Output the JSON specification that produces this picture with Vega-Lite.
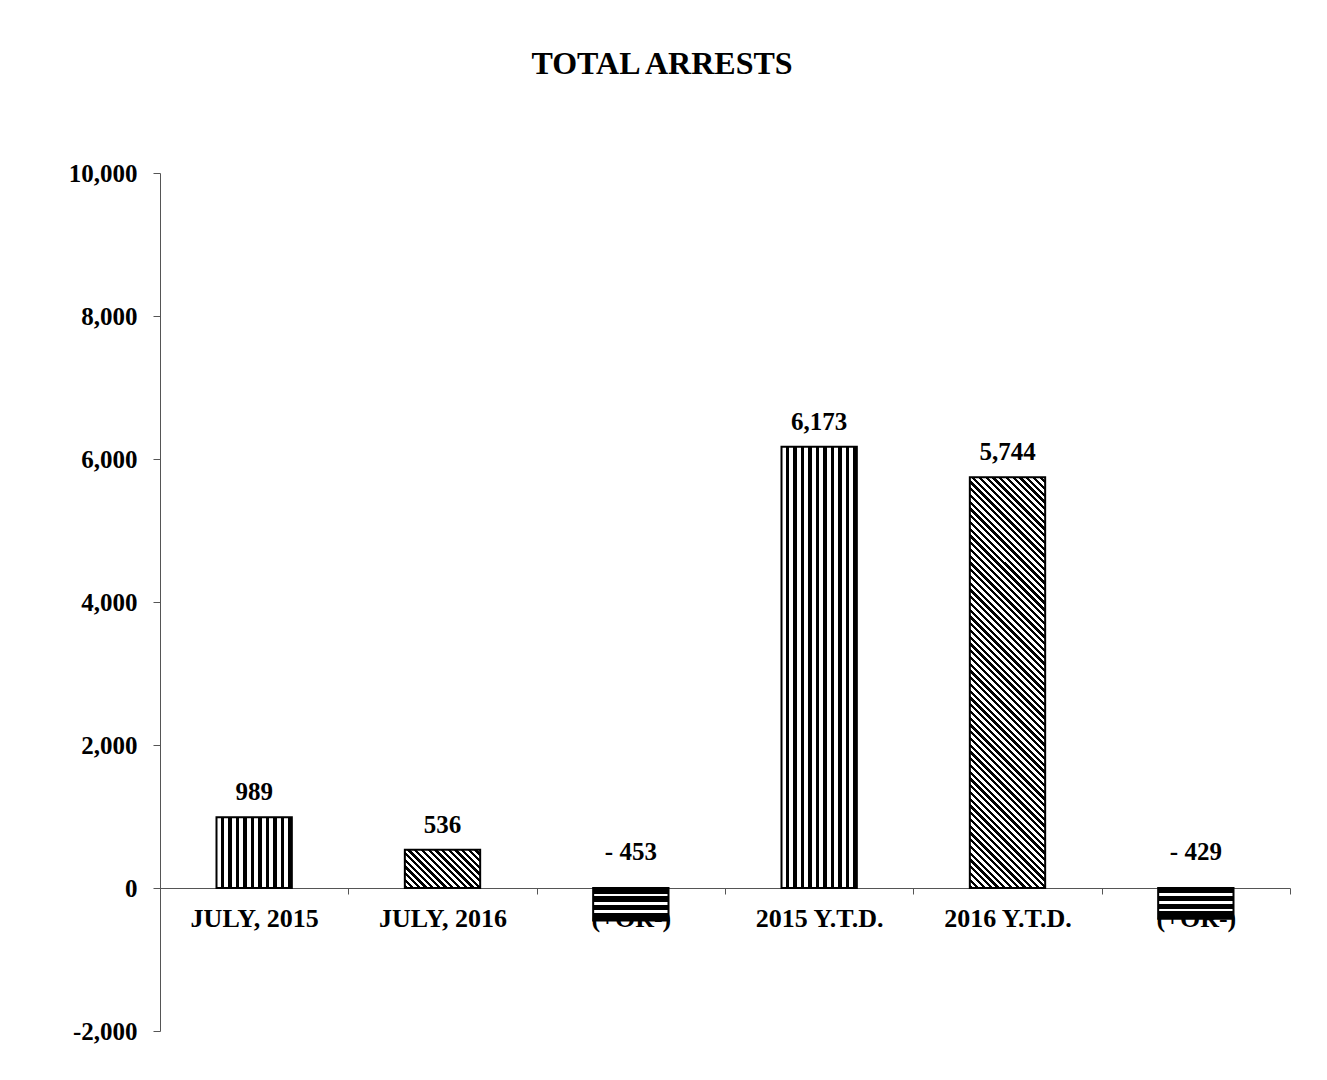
{
  "$schema": "https://vega.github.io/schema/vega-lite/v6.json",
  "width": 1130,
  "height": 858,
  "autosize": "none",
  "padding": {"left": 160, "top": 173, "right": 37, "bottom": 49},
  "background": "white",
  "title": {
    "text": "TOTAL ARRESTS",
    "font": "Liberation Serif",
    "fontSize": 32,
    "fontWeight": "bold",
    "color": "black",
    "anchor": "middle",
    "baseline": "alphabetic",
    "dx": -63,
    "offset": 55
  },
  "data": {
    "values": [
      {"category": "JULY, 2015", "value": 989, "label": "989"},
      {"category": "JULY, 2016", "value": 536, "label": "536"},
      {"category": "(+OR-)", "value": -453, "label": "- 453"},
      {"category": "2015 Y.T.D.", "value": 6173, "label": "6,173"},
      {"category": "2016 Y.T.D.", "value": 5744, "label": "5,744"},
      {"category": "(+OR-) ", "value": -429, "label": "- 429"}
    ]
  },
  "encoding": {
    "x": {
      "field": "category",
      "type": "nominal",
      "sort": null,
      "scale": {
        "domain": ["JULY, 2015", "JULY, 2016", "(+OR-)", "2015 Y.T.D.", "2016 Y.T.D.", "(+OR-) "],
        "paddingInner": 0,
        "paddingOuter": 0
      },
      "axis": {
        "title": null,
        "orient": "bottom",
        "offset": -143,
        "labelAngle": 0,
        "labelFont": "Liberation Serif",
        "labelFontSize": 26,
        "labelFontWeight": "bold",
        "labelColor": "black",
        "labelPadding": 11,
        "labelOverlap": false,
        "labelLimit": 0,
        "tickBand": "extent",
        "tickSize": 6,
        "tickColor": "#555",
        "domainColor": "#555",
        "grid": false
      }
    },
    "y": {
      "field": "value",
      "type": "quantitative",
      "scale": {"domain": [-2000, 10000], "nice": false, "zero": false},
      "axis": {
        "title": null,
        "values": [-2000, 0, 2000, 4000, 6000, 8000, 10000],
        "labelExpr": "replace(format(datum.value, ','), '\u2212', '-')",
        "labelFont": "Liberation Serif",
        "labelFontSize": 25,
        "labelFontWeight": "bold",
        "labelColor": "black",
        "labelPadding": 16,
        "tickSize": 7,
        "tickColor": "#555",
        "domainColor": "#555",
        "grid": false
      }
    }
  },
  "layer": [
    {
      "transform": [{"filter": {"field": "category", "oneOf": ["JULY, 2015", "2015 Y.T.D."]}}],
      "mark": {
        "type": "bar",
        "width": {"band": 0.4},
        "stroke": "black",
        "strokeWidth": 2,
        "fill": {
          "gradient": "linear", "x1": 0, "y1": 0, "x2": 1, "y2": 0,
          "stops": [
            {"offset": 0, "color": "#fff"}, {"offset": 0.055, "color": "#fff"}, {"offset": 0.055, "color": "#000"}, {"offset": 0.1, "color": "#000"},
            {"offset": 0.1, "color": "#fff"}, {"offset": 0.155, "color": "#fff"}, {"offset": 0.155, "color": "#000"}, {"offset": 0.2, "color": "#000"},
            {"offset": 0.2, "color": "#fff"}, {"offset": 0.255, "color": "#fff"}, {"offset": 0.255, "color": "#000"}, {"offset": 0.3, "color": "#000"},
            {"offset": 0.3, "color": "#fff"}, {"offset": 0.355, "color": "#fff"}, {"offset": 0.355, "color": "#000"}, {"offset": 0.4, "color": "#000"},
            {"offset": 0.4, "color": "#fff"}, {"offset": 0.455, "color": "#fff"}, {"offset": 0.455, "color": "#000"}, {"offset": 0.5, "color": "#000"},
            {"offset": 0.5, "color": "#fff"}, {"offset": 0.555, "color": "#fff"}, {"offset": 0.555, "color": "#000"}, {"offset": 0.6, "color": "#000"},
            {"offset": 0.6, "color": "#fff"}, {"offset": 0.655, "color": "#fff"}, {"offset": 0.655, "color": "#000"}, {"offset": 0.7, "color": "#000"},
            {"offset": 0.7, "color": "#fff"}, {"offset": 0.755, "color": "#fff"}, {"offset": 0.755, "color": "#000"}, {"offset": 0.8, "color": "#000"},
            {"offset": 0.8, "color": "#fff"}, {"offset": 0.855, "color": "#fff"}, {"offset": 0.855, "color": "#000"}, {"offset": 0.9, "color": "#000"},
            {"offset": 0.9, "color": "#fff"}, {"offset": 0.955, "color": "#fff"}, {"offset": 0.955, "color": "#000"}, {"offset": 1, "color": "#000"}
          ]
        }
      }
    },
    {
      "transform": [{"filter": {"field": "category", "equal": "JULY, 2016"}}],
      "mark": {
        "type": "bar",
        "width": {"band": 0.4},
        "stroke": "black",
        "strokeWidth": 2,
        "fill": {
          "gradient": "linear", "x1": 0, "y1": 1, "x2": 1.1986, "y2": 0.3903,
          "stops": [
            {"offset": 0, "color": "#000"}, {"offset": 0.02941, "color": "#000"},
            {"offset": 0.02941, "color": "#fff"}, {"offset": 0.05882, "color": "#fff"},
            {"offset": 0.05882, "color": "#000"}, {"offset": 0.08824, "color": "#000"},
            {"offset": 0.08824, "color": "#fff"}, {"offset": 0.11765, "color": "#fff"},
            {"offset": 0.11765, "color": "#000"}, {"offset": 0.14706, "color": "#000"},
            {"offset": 0.14706, "color": "#fff"}, {"offset": 0.17647, "color": "#fff"},
            {"offset": 0.17647, "color": "#000"}, {"offset": 0.20588, "color": "#000"},
            {"offset": 0.20588, "color": "#fff"}, {"offset": 0.23529, "color": "#fff"},
            {"offset": 0.23529, "color": "#000"}, {"offset": 0.26471, "color": "#000"},
            {"offset": 0.26471, "color": "#fff"}, {"offset": 0.29412, "color": "#fff"},
            {"offset": 0.29412, "color": "#000"}, {"offset": 0.32353, "color": "#000"},
            {"offset": 0.32353, "color": "#fff"}, {"offset": 0.35294, "color": "#fff"},
            {"offset": 0.35294, "color": "#000"}, {"offset": 0.38235, "color": "#000"},
            {"offset": 0.38235, "color": "#fff"}, {"offset": 0.41176, "color": "#fff"},
            {"offset": 0.41176, "color": "#000"}, {"offset": 0.44118, "color": "#000"},
            {"offset": 0.44118, "color": "#fff"}, {"offset": 0.47059, "color": "#fff"},
            {"offset": 0.47059, "color": "#000"}, {"offset": 0.5, "color": "#000"},
            {"offset": 0.5, "color": "#fff"}, {"offset": 0.52941, "color": "#fff"},
            {"offset": 0.52941, "color": "#000"}, {"offset": 0.55882, "color": "#000"},
            {"offset": 0.55882, "color": "#fff"}, {"offset": 0.58824, "color": "#fff"},
            {"offset": 0.58824, "color": "#000"}, {"offset": 0.61765, "color": "#000"},
            {"offset": 0.61765, "color": "#fff"}, {"offset": 0.64706, "color": "#fff"},
            {"offset": 0.64706, "color": "#000"}, {"offset": 0.67647, "color": "#000"},
            {"offset": 0.67647, "color": "#fff"}, {"offset": 0.70588, "color": "#fff"},
            {"offset": 0.70588, "color": "#000"}, {"offset": 0.73529, "color": "#000"},
            {"offset": 0.73529, "color": "#fff"}, {"offset": 0.76471, "color": "#fff"},
            {"offset": 0.76471, "color": "#000"}, {"offset": 0.79412, "color": "#000"},
            {"offset": 0.79412, "color": "#fff"}, {"offset": 0.82353, "color": "#fff"},
            {"offset": 0.82353, "color": "#000"}, {"offset": 0.85294, "color": "#000"},
            {"offset": 0.85294, "color": "#fff"}, {"offset": 0.88235, "color": "#fff"},
            {"offset": 0.88235, "color": "#000"}, {"offset": 0.91176, "color": "#000"},
            {"offset": 0.91176, "color": "#fff"}, {"offset": 0.94118, "color": "#fff"},
            {"offset": 0.94118, "color": "#000"}, {"offset": 0.97059, "color": "#000"},
            {"offset": 0.97059, "color": "#fff"}, {"offset": 1, "color": "#fff"}
          ]
        }
      }
    },
    {
      "transform": [{"filter": {"field": "category", "equal": "2016 Y.T.D."}}],
      "mark": {
        "type": "bar",
        "width": {"band": 0.4},
        "stroke": "black",
        "strokeWidth": 2,
        "fill": {
          "gradient": "linear", "x1": 0, "y1": 1, "x2": 0.21, "y2": -0.1449,
          "stops": [
            {"offset": 0, "color": "#000"}, {"offset": 0.0069, "color": "#000"},
            {"offset": 0.0069, "color": "#fff"}, {"offset": 0.0139, "color": "#fff"},
            {"offset": 0.0139, "color": "#000"}, {"offset": 0.0208, "color": "#000"},
            {"offset": 0.0208, "color": "#fff"}, {"offset": 0.0278, "color": "#fff"},
            {"offset": 0.0278, "color": "#000"}, {"offset": 0.0347, "color": "#000"},
            {"offset": 0.0347, "color": "#fff"}, {"offset": 0.0417, "color": "#fff"},
            {"offset": 0.0417, "color": "#000"}, {"offset": 0.0486, "color": "#000"},
            {"offset": 0.0486, "color": "#fff"}, {"offset": 0.0556, "color": "#fff"},
            {"offset": 0.0556, "color": "#000"}, {"offset": 0.0625, "color": "#000"},
            {"offset": 0.0625, "color": "#fff"}, {"offset": 0.0694, "color": "#fff"},
            {"offset": 0.0694, "color": "#000"}, {"offset": 0.0764, "color": "#000"},
            {"offset": 0.0764, "color": "#fff"}, {"offset": 0.0833, "color": "#fff"},
            {"offset": 0.0833, "color": "#000"}, {"offset": 0.0903, "color": "#000"},
            {"offset": 0.0903, "color": "#fff"}, {"offset": 0.0972, "color": "#fff"},
            {"offset": 0.0972, "color": "#000"}, {"offset": 0.1042, "color": "#000"},
            {"offset": 0.1042, "color": "#fff"}, {"offset": 0.1111, "color": "#fff"},
            {"offset": 0.1111, "color": "#000"}, {"offset": 0.1181, "color": "#000"},
            {"offset": 0.1181, "color": "#fff"}, {"offset": 0.125, "color": "#fff"},
            {"offset": 0.125, "color": "#000"}, {"offset": 0.1319, "color": "#000"},
            {"offset": 0.1319, "color": "#fff"}, {"offset": 0.1389, "color": "#fff"},
            {"offset": 0.1389, "color": "#000"}, {"offset": 0.1458, "color": "#000"},
            {"offset": 0.1458, "color": "#fff"}, {"offset": 0.1528, "color": "#fff"},
            {"offset": 0.1528, "color": "#000"}, {"offset": 0.1597, "color": "#000"},
            {"offset": 0.1597, "color": "#fff"}, {"offset": 0.1667, "color": "#fff"},
            {"offset": 0.1667, "color": "#000"}, {"offset": 0.1736, "color": "#000"},
            {"offset": 0.1736, "color": "#fff"}, {"offset": 0.1806, "color": "#fff"},
            {"offset": 0.1806, "color": "#000"}, {"offset": 0.1875, "color": "#000"},
            {"offset": 0.1875, "color": "#fff"}, {"offset": 0.1944, "color": "#fff"},
            {"offset": 0.1944, "color": "#000"}, {"offset": 0.2014, "color": "#000"},
            {"offset": 0.2014, "color": "#fff"}, {"offset": 0.2083, "color": "#fff"},
            {"offset": 0.2083, "color": "#000"}, {"offset": 0.2153, "color": "#000"},
            {"offset": 0.2153, "color": "#fff"}, {"offset": 0.2222, "color": "#fff"},
            {"offset": 0.2222, "color": "#000"}, {"offset": 0.2292, "color": "#000"},
            {"offset": 0.2292, "color": "#fff"}, {"offset": 0.2361, "color": "#fff"},
            {"offset": 0.2361, "color": "#000"}, {"offset": 0.2431, "color": "#000"},
            {"offset": 0.2431, "color": "#fff"}, {"offset": 0.25, "color": "#fff"},
            {"offset": 0.25, "color": "#000"}, {"offset": 0.2569, "color": "#000"},
            {"offset": 0.2569, "color": "#fff"}, {"offset": 0.2639, "color": "#fff"},
            {"offset": 0.2639, "color": "#000"}, {"offset": 0.2708, "color": "#000"},
            {"offset": 0.2708, "color": "#fff"}, {"offset": 0.2778, "color": "#fff"},
            {"offset": 0.2778, "color": "#000"}, {"offset": 0.2847, "color": "#000"},
            {"offset": 0.2847, "color": "#fff"}, {"offset": 0.2917, "color": "#fff"},
            {"offset": 0.2917, "color": "#000"}, {"offset": 0.2986, "color": "#000"},
            {"offset": 0.2986, "color": "#fff"}, {"offset": 0.3056, "color": "#fff"},
            {"offset": 0.3056, "color": "#000"}, {"offset": 0.3125, "color": "#000"},
            {"offset": 0.3125, "color": "#fff"}, {"offset": 0.3194, "color": "#fff"},
            {"offset": 0.3194, "color": "#000"}, {"offset": 0.3264, "color": "#000"},
            {"offset": 0.3264, "color": "#fff"}, {"offset": 0.3333, "color": "#fff"},
            {"offset": 0.3333, "color": "#000"}, {"offset": 0.3403, "color": "#000"},
            {"offset": 0.3403, "color": "#fff"}, {"offset": 0.3472, "color": "#fff"},
            {"offset": 0.3472, "color": "#000"}, {"offset": 0.3542, "color": "#000"},
            {"offset": 0.3542, "color": "#fff"}, {"offset": 0.3611, "color": "#fff"},
            {"offset": 0.3611, "color": "#000"}, {"offset": 0.3681, "color": "#000"},
            {"offset": 0.3681, "color": "#fff"}, {"offset": 0.375, "color": "#fff"},
            {"offset": 0.375, "color": "#000"}, {"offset": 0.3819, "color": "#000"},
            {"offset": 0.3819, "color": "#fff"}, {"offset": 0.3889, "color": "#fff"},
            {"offset": 0.3889, "color": "#000"}, {"offset": 0.3958, "color": "#000"},
            {"offset": 0.3958, "color": "#fff"}, {"offset": 0.4028, "color": "#fff"},
            {"offset": 0.4028, "color": "#000"}, {"offset": 0.4097, "color": "#000"},
            {"offset": 0.4097, "color": "#fff"}, {"offset": 0.4167, "color": "#fff"},
            {"offset": 0.4167, "color": "#000"}, {"offset": 0.4236, "color": "#000"},
            {"offset": 0.4236, "color": "#fff"}, {"offset": 0.4306, "color": "#fff"},
            {"offset": 0.4306, "color": "#000"}, {"offset": 0.4375, "color": "#000"},
            {"offset": 0.4375, "color": "#fff"}, {"offset": 0.4444, "color": "#fff"},
            {"offset": 0.4444, "color": "#000"}, {"offset": 0.4514, "color": "#000"},
            {"offset": 0.4514, "color": "#fff"}, {"offset": 0.4583, "color": "#fff"},
            {"offset": 0.4583, "color": "#000"}, {"offset": 0.4653, "color": "#000"},
            {"offset": 0.4653, "color": "#fff"}, {"offset": 0.4722, "color": "#fff"},
            {"offset": 0.4722, "color": "#000"}, {"offset": 0.4792, "color": "#000"},
            {"offset": 0.4792, "color": "#fff"}, {"offset": 0.4861, "color": "#fff"},
            {"offset": 0.4861, "color": "#000"}, {"offset": 0.4931, "color": "#000"},
            {"offset": 0.4931, "color": "#fff"}, {"offset": 0.5, "color": "#fff"},
            {"offset": 0.5, "color": "#000"}, {"offset": 0.5069, "color": "#000"},
            {"offset": 0.5069, "color": "#fff"}, {"offset": 0.5139, "color": "#fff"},
            {"offset": 0.5139, "color": "#000"}, {"offset": 0.5208, "color": "#000"},
            {"offset": 0.5208, "color": "#fff"}, {"offset": 0.5278, "color": "#fff"},
            {"offset": 0.5278, "color": "#000"}, {"offset": 0.5347, "color": "#000"},
            {"offset": 0.5347, "color": "#fff"}, {"offset": 0.5417, "color": "#fff"},
            {"offset": 0.5417, "color": "#000"}, {"offset": 0.5486, "color": "#000"},
            {"offset": 0.5486, "color": "#fff"}, {"offset": 0.5556, "color": "#fff"},
            {"offset": 0.5556, "color": "#000"}, {"offset": 0.5625, "color": "#000"},
            {"offset": 0.5625, "color": "#fff"}, {"offset": 0.5694, "color": "#fff"},
            {"offset": 0.5694, "color": "#000"}, {"offset": 0.5764, "color": "#000"},
            {"offset": 0.5764, "color": "#fff"}, {"offset": 0.5833, "color": "#fff"},
            {"offset": 0.5833, "color": "#000"}, {"offset": 0.5903, "color": "#000"},
            {"offset": 0.5903, "color": "#fff"}, {"offset": 0.5972, "color": "#fff"},
            {"offset": 0.5972, "color": "#000"}, {"offset": 0.6042, "color": "#000"},
            {"offset": 0.6042, "color": "#fff"}, {"offset": 0.6111, "color": "#fff"},
            {"offset": 0.6111, "color": "#000"}, {"offset": 0.6181, "color": "#000"},
            {"offset": 0.6181, "color": "#fff"}, {"offset": 0.625, "color": "#fff"},
            {"offset": 0.625, "color": "#000"}, {"offset": 0.6319, "color": "#000"},
            {"offset": 0.6319, "color": "#fff"}, {"offset": 0.6389, "color": "#fff"},
            {"offset": 0.6389, "color": "#000"}, {"offset": 0.6458, "color": "#000"},
            {"offset": 0.6458, "color": "#fff"}, {"offset": 0.6528, "color": "#fff"},
            {"offset": 0.6528, "color": "#000"}, {"offset": 0.6597, "color": "#000"},
            {"offset": 0.6597, "color": "#fff"}, {"offset": 0.6667, "color": "#fff"},
            {"offset": 0.6667, "color": "#000"}, {"offset": 0.6736, "color": "#000"},
            {"offset": 0.6736, "color": "#fff"}, {"offset": 0.6806, "color": "#fff"},
            {"offset": 0.6806, "color": "#000"}, {"offset": 0.6875, "color": "#000"},
            {"offset": 0.6875, "color": "#fff"}, {"offset": 0.6944, "color": "#fff"},
            {"offset": 0.6944, "color": "#000"}, {"offset": 0.7014, "color": "#000"},
            {"offset": 0.7014, "color": "#fff"}, {"offset": 0.7083, "color": "#fff"},
            {"offset": 0.7083, "color": "#000"}, {"offset": 0.7153, "color": "#000"},
            {"offset": 0.7153, "color": "#fff"}, {"offset": 0.7222, "color": "#fff"},
            {"offset": 0.7222, "color": "#000"}, {"offset": 0.7292, "color": "#000"},
            {"offset": 0.7292, "color": "#fff"}, {"offset": 0.7361, "color": "#fff"},
            {"offset": 0.7361, "color": "#000"}, {"offset": 0.7431, "color": "#000"},
            {"offset": 0.7431, "color": "#fff"}, {"offset": 0.75, "color": "#fff"},
            {"offset": 0.75, "color": "#000"}, {"offset": 0.7569, "color": "#000"},
            {"offset": 0.7569, "color": "#fff"}, {"offset": 0.7639, "color": "#fff"},
            {"offset": 0.7639, "color": "#000"}, {"offset": 0.7708, "color": "#000"},
            {"offset": 0.7708, "color": "#fff"}, {"offset": 0.7778, "color": "#fff"},
            {"offset": 0.7778, "color": "#000"}, {"offset": 0.7847, "color": "#000"},
            {"offset": 0.7847, "color": "#fff"}, {"offset": 0.7917, "color": "#fff"},
            {"offset": 0.7917, "color": "#000"}, {"offset": 0.7986, "color": "#000"},
            {"offset": 0.7986, "color": "#fff"}, {"offset": 0.8056, "color": "#fff"},
            {"offset": 0.8056, "color": "#000"}, {"offset": 0.8125, "color": "#000"},
            {"offset": 0.8125, "color": "#fff"}, {"offset": 0.8194, "color": "#fff"},
            {"offset": 0.8194, "color": "#000"}, {"offset": 0.8264, "color": "#000"},
            {"offset": 0.8264, "color": "#fff"}, {"offset": 0.8333, "color": "#fff"},
            {"offset": 0.8333, "color": "#000"}, {"offset": 0.8403, "color": "#000"},
            {"offset": 0.8403, "color": "#fff"}, {"offset": 0.8472, "color": "#fff"},
            {"offset": 0.8472, "color": "#000"}, {"offset": 0.8542, "color": "#000"},
            {"offset": 0.8542, "color": "#fff"}, {"offset": 0.8611, "color": "#fff"},
            {"offset": 0.8611, "color": "#000"}, {"offset": 0.8681, "color": "#000"},
            {"offset": 0.8681, "color": "#fff"}, {"offset": 0.875, "color": "#fff"},
            {"offset": 0.875, "color": "#000"}, {"offset": 0.8819, "color": "#000"},
            {"offset": 0.8819, "color": "#fff"}, {"offset": 0.8889, "color": "#fff"},
            {"offset": 0.8889, "color": "#000"}, {"offset": 0.8958, "color": "#000"},
            {"offset": 0.8958, "color": "#fff"}, {"offset": 0.9028, "color": "#fff"},
            {"offset": 0.9028, "color": "#000"}, {"offset": 0.9097, "color": "#000"},
            {"offset": 0.9097, "color": "#fff"}, {"offset": 0.9167, "color": "#fff"},
            {"offset": 0.9167, "color": "#000"}, {"offset": 0.9236, "color": "#000"},
            {"offset": 0.9236, "color": "#fff"}, {"offset": 0.9306, "color": "#fff"},
            {"offset": 0.9306, "color": "#000"}, {"offset": 0.9375, "color": "#000"},
            {"offset": 0.9375, "color": "#fff"}, {"offset": 0.9444, "color": "#fff"},
            {"offset": 0.9444, "color": "#000"}, {"offset": 0.9514, "color": "#000"},
            {"offset": 0.9514, "color": "#fff"}, {"offset": 0.9583, "color": "#fff"},
            {"offset": 0.9583, "color": "#000"}, {"offset": 0.9653, "color": "#000"},
            {"offset": 0.9653, "color": "#fff"}, {"offset": 0.9722, "color": "#fff"},
            {"offset": 0.9722, "color": "#000"}, {"offset": 0.9792, "color": "#000"},
            {"offset": 0.9792, "color": "#fff"}, {"offset": 0.9861, "color": "#fff"},
            {"offset": 0.9861, "color": "#000"}, {"offset": 0.9931, "color": "#000"},
            {"offset": 0.9931, "color": "#fff"}, {"offset": 1, "color": "#fff"}
          ]
        }
      }
    },
    {
      "transform": [{"filter": {"field": "category", "oneOf": ["(+OR-)", "(+OR-) "]}}],
      "mark": {
        "type": "bar",
        "width": {"band": 0.4},
        "stroke": "black",
        "strokeWidth": 2,
        "fill": {
          "gradient": "linear", "x1": 0, "y1": 0, "x2": 0, "y2": 1,
          "stops": [
            {"offset": 0, "color": "#000"}, {"offset": 0.17, "color": "#000"},
            {"offset": 0.17, "color": "#fff"}, {"offset": 0.26, "color": "#fff"},
            {"offset": 0.26, "color": "#000"}, {"offset": 0.42, "color": "#000"},
            {"offset": 0.42, "color": "#fff"}, {"offset": 0.51, "color": "#fff"},
            {"offset": 0.51, "color": "#000"}, {"offset": 0.67, "color": "#000"},
            {"offset": 0.67, "color": "#fff"}, {"offset": 0.76, "color": "#fff"},
            {"offset": 0.76, "color": "#000"}, {"offset": 1, "color": "#000"}
          ]
        }
      }
    },
    {
      "transform": [{"filter": "datum.value >= 0"}],
      "mark": {
        "type": "text",
        "font": "Liberation Serif",
        "fontSize": 25,
        "fontWeight": "bold",
        "color": "black",
        "align": "center",
        "baseline": "alphabetic",
        "dy": -17
      },
      "encoding": {"text": {"field": "label"}}
    },
    {
      "transform": [{"filter": "datum.value < 0"}],
      "mark": {
        "type": "text",
        "font": "Liberation Serif",
        "fontSize": 25,
        "fontWeight": "bold",
        "color": "black",
        "align": "center",
        "baseline": "alphabetic",
        "dy": -28
      },
      "encoding": {"text": {"field": "label"}, "y": {"datum": 0}}
    }
  ],
  "config": {"view": {"stroke": null}}
}
